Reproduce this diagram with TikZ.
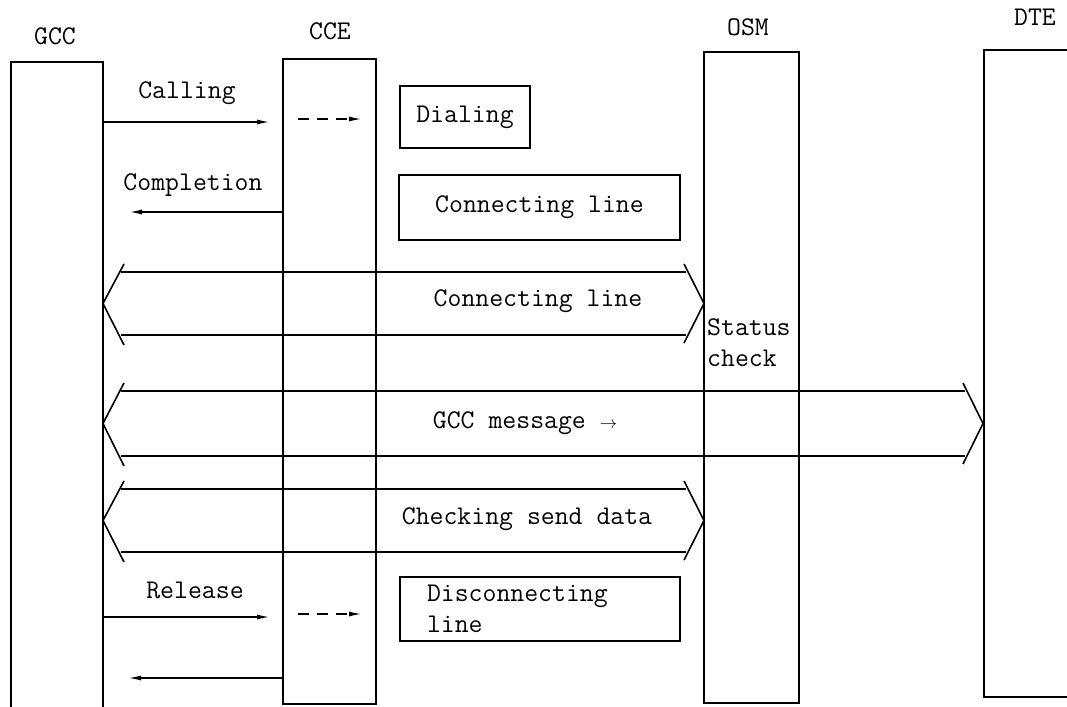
\documentclass[tikz,border=0pt]{standalone}
\usetikzlibrary{arrows.meta,calc}
\newcommand\chevband[4]{%
 \draw[band] ({#3+21},{#1-8}) -- (#3,{(#1+#2)/2}) -- ({#3+21},{#2+10});
 \draw[band] ({#3+18},#1) -- ({#4-18},#1) ({#3+18},#2) -- ({#4-18},#2);
 \draw[band] ({#4-20},{#1-8}) -- (#4,{(#1+#2)/2}) -- ({#4-20},{#2+8});
}
\begin{document}
\begin{tikzpicture}[x=1pt,y=-1pt,
  every node/.style={font=\ttfamily\fontsize{27}{31}\selectfont},
  life/.style={draw,line width=1.5pt,inner sep=0pt},
  procbox/.style={draw,line width=1.5pt,inner sep=0pt},
  lbl/.style={inner sep=0pt},
  msg/.style={line width=1.5pt,-{Latex[length=13pt,width=5pt]}},
  dmsg/.style={msg,dash pattern=on 11pt off 8pt},
  band/.style={line width=1.6pt}]
\useasboundingbox (0,0) rectangle (1067,706);
\clip (0,0) rectangle (1067,706);
% lifelines
\node[life, minimum width=92pt, minimum height=658pt] (GCC) at (57,391) {};
\node[life, minimum width=93pt, minimum height=645pt] (CCE) at (329.5,381.5) {};
\node[life, minimum width=95pt, minimum height=651pt] (OSM) at (751.5,377.5) {};
\node[life, minimum width=106pt, minimum height=647pt] (DTE) at (1037,373.5) {};
% headers
\node[lbl] (tGCC) at (55,36) {GCC};
\node[lbl] (tCCE) at (330,31) {CCE};
\node[lbl] (tOSM) at (748,27) {OSM};
\node[lbl] (tDTE) at (1035,17) {DTE};
% process boxes
\node[procbox, minimum width=130pt, minimum height=62pt] (dial) at (465,117) {Dialing};
\node[procbox, minimum width=281pt, minimum height=65pt] (conn) at (539.5,207.5) {Connecting line};
\node[procbox, minimum width=280pt, minimum height=64pt, align=left, text width=226pt] (disc) at (540,609) {Disconnecting\\line};
% messages
\node[lbl] (lCall) at (187,93) {Calling};
\coordinate (callEnd) at (270,122);
\draw[msg] (GCC.east |- callEnd) -- (callEnd);
\coordinate (d1s) at (298,119); \coordinate (d1e) at (362,119);
\draw[dmsg] (d1s) -- (d1e);
\node[lbl] (lComp) at (193,185) {Completion};
\coordinate (compEnd) at (129,212);
\draw[msg] (CCE.west |- compEnd) -- (compEnd);
\node[lbl] (lRel) at (195,590) {Release};
\coordinate (relEnd) at (270,617);
\draw[msg] (GCC.east |- relEnd) -- (relEnd);
\coordinate (d2s) at (298,614); \coordinate (d2e) at (362,614);
\draw[dmsg] (d2s) -- (d2e);
\coordinate (lastEnd) at (128,678);
\draw[msg] (CCE.west |- lastEnd) -- (lastEnd);
% bands
\chevband{272}{335}{103}{704}
\node[lbl] (lConn) at (538,301) {Connecting line};
\chevband{391}{456}{103}{983}
\node[lbl] (lGCC) at (525,423) {GCC message {\normalfont$\scriptstyle\rightarrow$}};
\chevband{489}{552}{103}{704}
\node[lbl] (lChk) at (527,519) {Checking send data};
% status
\node[lbl, anchor=north west, align=left] (stat) at (707,318) {Status\\check};
\end{tikzpicture}
\end{document}
